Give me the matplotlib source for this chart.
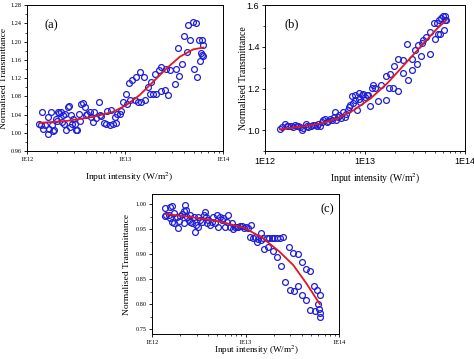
import numpy as np
import matplotlib
matplotlib.use("Agg")
import matplotlib.pyplot as plt
from matplotlib.ticker import FixedLocator, LogLocator, MultipleLocator, FormatStrFormatter, NullFormatter

plt.rcParams['font.family'] = ['Liberation Serif', 'DejaVu Serif']
plt.rcParams['mathtext.fontset'] = 'stix'

# ---- panel (a): log10 of intensity and normalised transmittance
lg_a = [12.126, 12.154, 12.143, 12.167, 12.188, 12.212, 12.212, 12.229, 12.246, 12.256,
        12.270, 12.280, 12.297, 12.304, 12.314, 12.331, 12.348, 12.358, 12.372, 12.382,
        12.392, 12.399, 12.416, 12.427, 12.440, 12.451, 12.461, 12.474, 12.485, 12.502,
        12.509, 12.526, 12.536, 12.553, 12.570, 12.587, 12.597, 12.611, 12.638, 12.655,
        12.672, 12.683, 12.706, 12.734, 12.741, 12.758, 12.782, 12.802, 12.816, 12.843,
        12.860, 12.877, 12.894, 12.911, 12.918, 12.945, 12.962, 12.980, 13.007, 13.020,
        13.041, 13.055, 13.075, 13.099, 13.116, 13.133, 13.150, 13.167, 13.191, 13.201,
        13.235, 13.253, 13.270, 13.287, 13.304, 13.321, 13.348, 13.365, 13.372, 13.406,
        13.423, 13.440, 13.457, 13.509, 13.519, 13.543, 13.553, 13.577, 13.601, 13.628,
        13.645, 13.662, 13.689, 13.703, 13.724, 13.737, 13.754, 13.765, 13.775, 13.782,
        13.788, 13.792, 13.799]
tr_a = [1.020, 1.046, 1.018, 1.009, 1.017, 0.998, 1.034, 1.009, 1.046, 1.017,
        1.004, 1.007, 1.031, 1.026, 1.046, 1.044, 1.046, 1.024, 1.039, 1.019,
        1.042, 1.006, 1.057, 1.059, 1.013, 1.039, 1.019, 1.031, 1.019, 1.007,
        1.006, 1.041, 1.025, 1.063, 1.066, 1.057, 1.039, 1.042, 1.046, 1.035,
        1.024, 1.046, 1.033, 1.068, 1.039, 1.037, 1.022, 1.019, 1.048, 1.017,
        1.051, 1.020, 1.034, 1.022, 1.042, 1.042, 1.047, 1.068, 1.086, 1.064,
        1.110, 1.072, 1.117, 1.072, 1.122, 1.068, 1.134, 1.068, 1.123, 1.072,
        1.100, 1.085, 1.112, 1.085, 1.130, 1.085, 1.138, 1.092, 1.145, 1.094,
        1.141, 1.083, 1.138, 1.108, 1.141, 1.186, 1.124, 1.152, 1.213, 1.178,
        1.237, 1.204, 1.242, 1.139, 1.241, 1.122, 1.203, 1.157, 1.176, 1.171,
        1.204, 1.168, 1.192]
fit_lg_a = [12.126, 12.399, 12.672, 12.877, 13.014, 13.150, 13.287, 13.423, 13.560, 13.696, 13.799]
fit_tr_a = [1.022, 1.026, 1.035, 1.046, 1.061, 1.083, 1.112, 1.141, 1.167, 1.183, 1.187]

# ---- panel (b)
lg_b = [12.150, 12.174, 12.201, 12.217, 12.234, 12.261, 12.284, 12.301, 12.318, 12.334,
        12.351, 12.368, 12.385, 12.408, 12.418, 12.435, 12.462, 12.485, 12.502, 12.518,
        12.535, 12.552, 12.569, 12.585, 12.602, 12.619, 12.635, 12.652, 12.669, 12.686,
        12.696, 12.709, 12.729, 12.742, 12.763, 12.776, 12.796, 12.809, 12.829, 12.843,
        12.853, 12.870, 12.876, 12.896, 12.903, 12.920, 12.936, 12.943, 12.953, 12.967,
        12.983, 13.000, 13.017, 13.033, 13.050, 13.067, 13.084, 13.100, 13.127, 13.161,
        13.207, 13.207, 13.244, 13.251, 13.284, 13.294, 13.328, 13.334, 13.378, 13.378,
        13.418, 13.428, 13.468, 13.475, 13.502, 13.518, 13.535, 13.562, 13.569, 13.585,
        13.609, 13.652, 13.652, 13.686, 13.696, 13.719, 13.729, 13.742, 13.753, 13.763,
        13.776, 13.786, 13.796, 13.803, 13.809]
tr_b = [1.008, 1.016, 1.029, 1.019, 1.019, 1.019, 1.016, 1.024, 1.019, 1.022,
        1.016, 1.000, 1.013, 1.032, 1.019, 1.016, 1.019, 1.024, 1.026, 1.019,
        1.029, 1.022, 1.040, 1.048, 1.056, 1.040, 1.045, 1.056, 1.048, 1.064,
        1.088, 1.048, 1.064, 1.072, 1.061, 1.088, 1.064, 1.080, 1.096, 1.112,
        1.120, 1.163, 1.131, 1.147, 1.168, 1.096, 1.152, 1.179, 1.136, 1.168,
        1.176, 1.160, 1.168, 1.168, 1.115, 1.205, 1.216, 1.205, 1.141, 1.216,
        1.147, 1.259, 1.205, 1.269, 1.205, 1.307, 1.189, 1.344, 1.339, 1.275,
        1.416, 1.243, 1.288, 1.344, 1.387, 1.317, 1.408, 1.355, 1.419, 1.432,
        1.448, 1.365, 1.472, 1.512, 1.440, 1.515, 1.461, 1.531, 1.464, 1.536,
        1.547, 1.483, 1.547, 1.531, 1.528]
fit_lg_b = [12.150, 12.385, 12.585, 12.719, 12.886, 13.054, 13.221, 13.388, 13.555, 13.722, 13.810]
fit_tr_b = [1.005, 1.019, 1.035, 1.056, 1.096, 1.152, 1.224, 1.312, 1.400, 1.488, 1.526]

# ---- panel (c)
lg_c = [12.142, 12.153, 12.142, 12.178, 12.195, 12.213, 12.188, 12.213, 12.231, 12.238,
        12.266, 12.274, 12.284, 12.302, 12.320, 12.337, 12.337, 12.348, 12.366, 12.373,
        12.391, 12.401, 12.409, 12.426, 12.444, 12.462, 12.472, 12.487, 12.497, 12.515,
        12.533, 12.551, 12.568, 12.579, 12.586, 12.604, 12.622, 12.639, 12.657, 12.675,
        12.693, 12.710, 12.728, 12.746, 12.764, 12.782, 12.799, 12.817, 12.835, 12.853,
        12.870, 12.888, 12.906, 12.924, 12.941, 12.959, 12.984, 13.005, 13.030, 13.055,
        13.048, 13.076, 13.101, 13.126, 13.137, 13.162, 13.162, 13.190, 13.197, 13.226,
        13.243, 13.254, 13.279, 13.290, 13.304, 13.332, 13.332, 13.368, 13.375, 13.396,
        13.421, 13.467, 13.474, 13.510, 13.517, 13.563, 13.563, 13.609, 13.609, 13.645,
        13.652, 13.694, 13.694, 13.730, 13.741, 13.766, 13.776, 13.787, 13.794, 13.801,
        13.794]
tr_c = [0.992, 0.979, 0.977, 0.979, 0.994, 0.997, 0.972, 0.965, 0.962, 0.982,
        0.975, 0.952, 0.967, 0.977, 0.981, 0.962, 0.987, 0.999, 0.989, 0.975,
        0.969, 0.965, 0.979, 0.963, 0.975, 0.945, 0.958, 0.955, 0.974, 0.969,
        0.965, 0.979, 0.985, 0.975, 0.962, 0.969, 0.958, 0.965, 0.974, 0.963,
        0.979, 0.954, 0.975, 0.969, 0.972, 0.955, 0.965, 0.979, 0.955, 0.962,
        0.950, 0.955, 0.954, 0.955, 0.956, 0.956, 0.952, 0.954, 0.952, 0.958,
        0.935, 0.933, 0.935, 0.925, 0.930, 0.928, 0.943, 0.932, 0.910, 0.932,
        0.914, 0.932, 0.932, 0.907, 0.932, 0.932, 0.895, 0.932, 0.876, 0.934,
        0.845, 0.914, 0.829, 0.902, 0.826, 0.836, 0.900, 0.885, 0.818, 0.871,
        0.808, 0.867, 0.789, 0.836, 0.786, 0.829, 0.801, 0.791, 0.782, 0.818,
        0.774]
fit_lg_c = [12.142, 12.373, 12.728, 12.991, 13.183, 13.361, 13.510, 13.652, 13.794]
fit_tr_c = [0.980, 0.975, 0.965, 0.952, 0.932, 0.905, 0.878, 0.841, 0.800]

xticklabels = ['1E12', '1E13', '1E14']
xlab = 'Input intensity (W/m$^{2}$)'
ylab = 'Normalised Transmittance'

fig = plt.figure(figsize=(4.74, 3.59), dpi=100)
ax_a = fig.add_axes([0.057, 0.579, 0.4135, 0.4067])
ax_b = fig.add_axes([0.559, 0.579, 0.422, 0.4067])
ax_c = fig.add_axes([0.3207, 0.0696, 0.3945, 0.390])

panels = [
    (ax_a, lg_a, tr_a, fit_lg_a, fit_tr_a, (0.96, 1.28), 0.04, 0.02, '%.2f', '(a)', (0.09, 0.84), 4.5),
    (ax_b, lg_b, tr_b, fit_lg_b, fit_tr_b, (0.9, 1.6), 0.2, 0.1, '%.1f', '(b)', (0.10, 0.85), 6.5),
    (ax_c, lg_c, tr_c, fit_lg_c, fit_tr_c, (0.74, 1.02), 0.05, 0.025, '%.2f', '(c)', (0.90, 0.87), 4.5),
]

for ax, lg, tr, flg, ftr, ylim, ymaj, ymin, fmt, tag, tagpos, tfs in panels:
    ax.plot(10 ** np.array(lg), tr, 'o', mfc='none', mec='#1f1fd6', ms=4.2, mew=0.9)
    ax.plot(10 ** np.array(flg), ftr, '-', color='#e3161b', lw=1.3)
    ax.set_xscale('log')
    ax.set_xlim(1e12, 1e14)
    ax.set_ylim(*ylim)
    ax.xaxis.set_major_locator(FixedLocator([1e12, 1e13, 1e14]))
    ax.set_xticklabels(xticklabels)
    ax.xaxis.set_minor_locator(LogLocator(base=10, subs=np.arange(2, 10)))
    ax.xaxis.set_minor_formatter(NullFormatter())
    ax.yaxis.set_major_locator(MultipleLocator(ymaj))
    ax.yaxis.set_minor_locator(MultipleLocator(ymin))
    ax.yaxis.set_major_formatter(FormatStrFormatter(fmt))
    ax.tick_params(which='major', direction='out', length=2.5, width=0.6, labelsize=tfs, pad=1.5)
    ax.tick_params(which='minor', direction='out', length=1.5, width=0.5)
    for s in ax.spines.values():
        s.set_linewidth(0.7)
    ax.text(tagpos[0], tagpos[1], tag, transform=ax.transAxes, fontsize=9)

ax_a.set_xlabel(xlab, fontsize=6.8)
ax_a.set_ylabel(ylab, fontsize=6.8)
ax_a.xaxis.set_label_coords(0.52, -0.13)
ax_a.yaxis.set_label_coords(-0.095, 0.5)

for lbl in ax_b.get_xticklabels() + ax_b.get_yticklabels():
    lbl.set_family(['Liberation Sans', 'DejaVu Sans'])
ax_b.set_xlabel(xlab, fontsize=7)
ax_b.set_ylabel(ylab, fontsize=7)
ax_b.xaxis.set_label_coords(0.55, -0.14)
ax_b.yaxis.set_label_coords(-0.085, 0.5)

ax_c.set_xlabel(xlab, fontsize=6.6)
ax_c.set_ylabel(ylab, fontsize=6.8)
ax_c.xaxis.set_label_coords(0.56, -0.07)
ax_c.yaxis.set_label_coords(-0.11, 0.5)

fig.savefig('out.png', dpi=100)
